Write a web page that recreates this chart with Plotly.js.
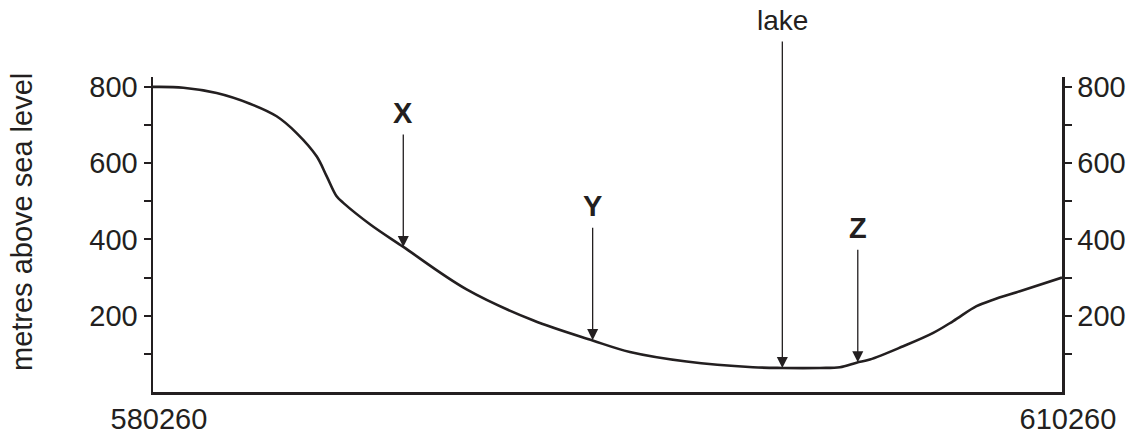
<!DOCTYPE html>
<html>
<head>
<meta charset="utf-8">
<script src="https://cdn.plot.ly/plotly-3.0.1.min.js"></script>
<style>html,body{margin:0;padding:0;background:#fff;}#chart{width:1139px;height:437px;}</style>
</head>
<body>
<div id="chart"></div>
<script>
// Cross-section profile: distance (grid reference) vs height in metres above sea level
const distance = [580260, 581260, 582360, 583460, 584340, 585000, 585660, 585990, 586320, 586540,
                  587420, 588510, 590610, 592800, 594770, 596000, 597870, 600060, 601030, 602270,
                  602930, 603480, 603920, 605020, 606010, 606670, 607440, 607990, 608870, 610260];
const height   = [800, 798, 784, 756, 723, 679, 618, 566, 513, 496,
                  440, 381, 269, 188, 135, 105, 80, 65, 63, 63,
                  65, 77, 85, 120, 155, 186, 225, 242, 264, 300];

// Labelled features on the profile
const featureLabels = ['<b>X</b>', '<b>Y</b>', 'lake', '<b>Z</b>'];
const featureX      = [588520, 594770, 601030, 603520];
const featureHeight = [380, 136, 63, 78];

// Axis ticks
const yTickVals  = [100, 200, 300, 400, 500, 600, 700, 800];
const yTickText  = ['', '200', '', '400', '', '600', '', '800'];
const xTickVals  = [580260, 610260];
const xTickText  = ['580260', '610260'];

// Styles
const INK = '#231f20';
const FONT = '"Liberation Sans", Arial, Helvetica, sans-serif';
const ARROW_LEN = [114, 114, 328, 114];
const LABEL_SIZE = [29, 29, 28, 29];

const yAxisBase = {
  range: [0, 826], autorange: false,
  tickmode: 'array', tickvals: yTickVals, ticktext: yTickText,
  ticks: 'outside', ticklen: 7, tickwidth: 2, tickcolor: INK,
  showline: true, linewidth: 2.5, linecolor: INK,
  showgrid: false, zeroline: false, fixedrange: true,
  tickfont: {family: FONT, size: 29, color: INK}
};

const annotations = [];
featureLabels.forEach((lab, i) => {
  annotations.push({
    x: featureX[i], y: featureHeight[i], xref: 'x', yref: 'y',
    text: '', showarrow: true, ax: 0, ay: -ARROW_LEN[i],
    arrowhead: 2, arrowsize: 1.7, arrowwidth: 1.3, arrowcolor: INK, standoff: 0
  });
  annotations.push({
    x: featureX[i], y: featureHeight[i], xref: 'x', yref: 'y',
    text: lab, showarrow: false, yanchor: 'bottom', xanchor: 'center',
    yshift: ARROW_LEN[i] + 2,
    font: {family: FONT, size: LABEL_SIZE[i], color: INK}
  });
});
annotations.push({
  text: 'metres above sea level', xref: 'paper', yref: 'paper',
  x: -0.144, y: 0.54, xanchor: 'center', yanchor: 'middle',
  textangle: -90, showarrow: false,
  font: {family: FONT, size: 29, color: INK}
});

const traces = [
  {x: distance, y: height, type: 'scatter', mode: 'lines',
   line: {color: INK, width: 2.6, shape: 'spline', smoothing: 1.0},
   hoverinfo: 'skip', showlegend: false, xaxis: 'x', yaxis: 'y'},
  {x: distance, y: height, type: 'scatter', mode: 'lines',
   line: {color: 'rgba(0,0,0,0)', width: 0},
   hoverinfo: 'skip', showlegend: false, xaxis: 'x', yaxis: 'y2'}
];

const layout = {
  width: 1139, height: 437,
  margin: {l: 153, r: 77, t: 77, b: 44.5, pad: 0},
  paper_bgcolor: '#fff', plot_bgcolor: '#fff',
  showlegend: false,
  font: {family: FONT, color: INK},
  xaxis: {
    range: [580260, 610260], autorange: false,
    tickmode: 'array', tickvals: xTickVals, ticktext: xTickText,
    ticks: '', ticklabelshift: 6,
    showline: true, linewidth: 2.5, linecolor: INK,
    showgrid: false, zeroline: false, fixedrange: true,
    tickfont: {family: FONT, size: 29, color: INK}
  },
  yaxis: Object.assign({}, yAxisBase, {side: 'left'}),
  yaxis2: Object.assign({}, yAxisBase, {side: 'right', overlaying: 'y', anchor: 'x'}),
  annotations: annotations
};

Plotly.newPlot('chart', traces, layout, {staticPlot: true, displayModeBar: false});
</script>
</body>
</html>
